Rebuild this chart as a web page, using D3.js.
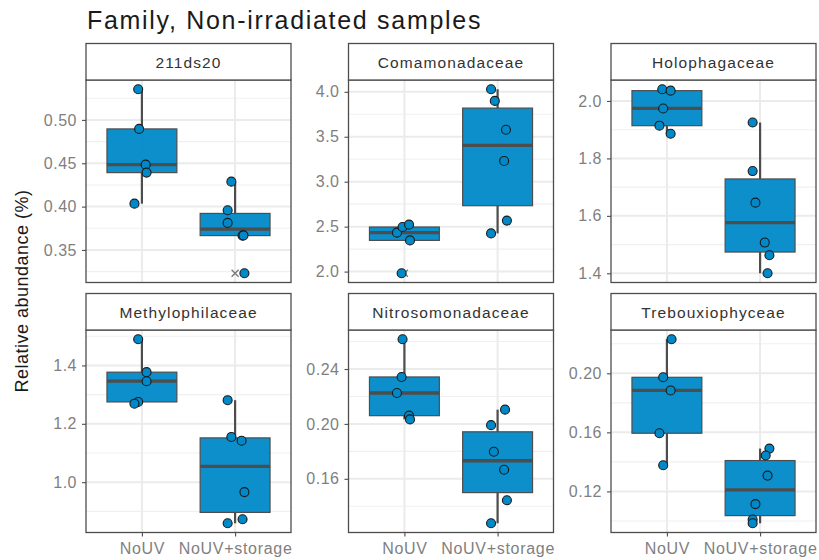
<!DOCTYPE html>
<html>
<head>
<meta charset="utf-8">
<script src="https://cdn.jsdelivr.net/npm/d3@7"></script>
<style>
  body { margin: 0; background: #fff; }
  svg { font-family: "Liberation Sans", Arial, sans-serif; }
</style>
</head>
<body>
<div id="chart"></div>
<script>
// facets and groups
var facets = ["211ds20", "Comamonadaceae", "Holophagaceae", "Methylophilaceae", "Nitrosomonadaceae", "Trebouxiophyceae"];
var groups = ["NoUV", "NoUV+storage"];

// values, one array per facet
var nouvValues = [
  [0.5354, 0.4896, 0.4484, 0.4392, 0.4034],
  [2.433, 2.496, 2.522, 2.347, 1.981],
  [2.041, 2.036, 1.974, 1.914, 1.886],
  [1.490, 1.377, 1.346, 1.275, 1.269],
  [0.2617, 0.2342, 0.2225, 0.2060, 0.2033],
  [0.2231, 0.1973, 0.1884, 0.1594, 0.1377]
];
var storageValues = [
  [0.4288, 0.3958, 0.3812, 0.3665, 0.3668, 0.3231],
  [4.029, 3.899, 3.578, 3.231, 2.567, 2.425],
  [1.925, 1.756, 1.646, 1.507, 1.463, 1.400],
  [1.281, 1.155, 1.142, 0.966, 0.873, 0.859],
  [0.2104, 0.1991, 0.1797, 0.1666, 0.1444, 0.1276],
  [0.1490, 0.1443, 0.1307, 0.1114, 0.1010, 0.0984]
];
// horizontal jitter of each point, in category steps
var nouvJitter = [
  [-0.04, -0.03, 0.04, 0.05, -0.08],
  [-0.08, -0.02, 0.05, 0.06, -0.03],
  [-0.05, 0.04, -0.04, -0.08, 0.04],
  [-0.04, 0.05, 0.05, -0.04, -0.08],
  [-0.02, -0.03, -0.08, 0.05, 0.06],
  [0.05, -0.04, 0.04, -0.08, -0.04]
];
var storageJitter = [
  [-0.04, -0.08, -0.08, 0.08, 0.09, 0.10],
  [-0.07, -0.03, 0.09, 0.07, 0.10, -0.07],
  [-0.08, -0.08, -0.05, 0.05, 0.10, 0.08],
  [-0.08, -0.04, 0.07, 0.10, 0.08, -0.08],
  [0.08, -0.07, -0.04, 0.07, 0.10, -0.07],
  [0.10, 0.06, 0.08, -0.05, -0.08, -0.08]
];
var yTicks = [
  [0.35, 0.40, 0.45, 0.50],
  [2.0, 2.5, 3.0, 3.5, 4.0],
  [1.4, 1.6, 1.8, 2.0],
  [1.0, 1.2, 1.4],
  [0.16, 0.20, 0.24],
  [0.12, 0.16, 0.20]
];
var yTickLabels = [
  ["0.35", "0.40", "0.45", "0.50"],
  ["2.0", "2.5", "3.0", "3.5", "4.0"],
  ["1.4", "1.6", "1.8", "2.0"],
  ["1.0", "1.2", "1.4"],
  ["0.16", "0.20", "0.24"],
  ["0.12", "0.16", "0.20"]
];

var width = 819, height = 560;
var panelLeft = [86, 348.5, 611];
var panelW = 205;
var rowTop = [43.5, 293.5];
var stripH = 36.5;
var plotH = 202.5;
var fill = "#0089c8";
var dark = "#4d4d4d";
var tickGrey = "#7f7f7f";

var svg = d3.select("#chart").append("svg")
  .attr("width", width)
  .attr("height", height);

svg.append("text")
  .attr("x", 87)
  .attr("y", 29)
  .attr("font-size", "25px")
  .attr("letter-spacing", "1.7px")
  .attr("fill", "#1a1a1a")
  .text("Family, Non-irradiated samples");

svg.append("text")
  .attr("transform", "translate(28,291) rotate(-90)")
  .attr("text-anchor", "middle")
  .attr("font-size", "18px")
  .attr("letter-spacing", "0.5px")
  .attr("fill", "#1a1a1a")
  .text("Relative abundance (%)");

function boxStats(vals) {
  var s = vals.slice().sort(d3.ascending);
  var q1 = d3.quantileSorted(s, 0.25), med = d3.quantileSorted(s, 0.5), q3 = d3.quantileSorted(s, 0.75);
  var iqr = q3 - q1;
  var lo = q1 - 1.5 * iqr, hi = q3 + 1.5 * iqr;
  var inside = s.filter(function(v) { return v >= lo && v <= hi; });
  return {
    q1: q1, med: med, q3: q3,
    wlo: d3.min(inside), whi: d3.max(inside),
    out: s.filter(function(v) { return v < lo || v > hi; })
  };
}

facets.forEach(function(name, i) {
  var col = i % 3, row = Math.floor(i / 3);
  var left = panelLeft[col];
  var top = rowTop[row];
  var plotTop = top + stripH;

  var all = nouvValues[i].concat(storageValues[i]);
  var ext = d3.extent(all);
  var pad = (ext[1] - ext[0]) * 0.05;

  var x = d3.scalePoint()
    .domain(groups)
    .range([0, panelW])
    .padding(0.6);
  var y = d3.scaleLinear()
    .domain([ext[0] - pad, ext[1] + pad])
    .range([plotH, 0]);

  var g = svg.append("g")
    .attr("transform", "translate(" + left + "," + plotTop + ")");

  // grid
  var step = yTicks[i][1] - yTicks[i][0];
  var minor = [yTicks[i][0] - step / 2].concat(yTicks[i].map(function(t) { return t + step / 2; }))
    .filter(function(v) { return v >= y.domain()[0] && v <= y.domain()[1]; });
  g.selectAll(".minor").data(minor).enter().append("line")
    .attr("x1", 0).attr("x2", panelW)
    .attr("y1", function(d) { return y(d); }).attr("y2", function(d) { return y(d); })
    .attr("stroke", "#f0f0f0").attr("stroke-width", 1.1);
  g.selectAll(".major").data(yTicks[i]).enter().append("line")
    .attr("x1", 0).attr("x2", panelW)
    .attr("y1", function(d) { return y(d); }).attr("y2", function(d) { return y(d); })
    .attr("stroke", "#ebebeb").attr("stroke-width", 2);
  g.selectAll(".vmajor").data(groups).enter().append("line")
    .attr("x1", function(d) { return x(d); }).attr("x2", function(d) { return x(d); })
    .attr("y1", 0).attr("y2", plotH)
    .attr("stroke", "#ebebeb").attr("stroke-width", 2);

  // boxes
  var sets = [nouvValues[i], storageValues[i]];
  var jit = [nouvJitter[i], storageJitter[i]];
  var bw = x.step() * 0.75;
  sets.forEach(function(vals, k) {
    var st = boxStats(vals);
    var cx = x(groups[k]);
    g.append("line")
      .attr("x1", cx).attr("x2", cx)
      .attr("y1", y(st.whi)).attr("y2", y(st.q3))
      .attr("stroke", dark).attr("stroke-width", 2.2);
    g.append("line")
      .attr("x1", cx).attr("x2", cx)
      .attr("y1", y(st.q1)).attr("y2", y(st.wlo))
      .attr("stroke", dark).attr("stroke-width", 2.2);
    g.append("rect")
      .attr("x", cx - bw / 2)
      .attr("y", y(st.q3))
      .attr("width", bw)
      .attr("height", y(st.q1) - y(st.q3))
      .attr("fill", fill)
      .attr("fill-opacity", 0.95)
      .attr("stroke", dark)
      .attr("stroke-width", 1.2);
    g.append("line")
      .attr("x1", cx - bw / 2).attr("x2", cx + bw / 2)
      .attr("y1", y(st.med)).attr("y2", y(st.med))
      .attr("stroke", dark).attr("stroke-width", 3.3);
    // outliers as small crosses
    st.out.forEach(function(v) {
      var oy = y(v), s = 3.5;
      g.append("path")
        .attr("d", "M" + (cx - s) + "," + (oy - s) + "L" + (cx + s) + "," + (oy + s) +
                   "M" + (cx - s) + "," + (oy + s) + "L" + (cx + s) + "," + (oy - s))
        .attr("stroke", "#777").attr("stroke-width", 1.3);
    });
    // jittered points
    g.selectAll(".pt" + k).data(vals).enter().append("circle")
      .attr("cx", function(d, j) { return cx + jit[k][j] * x.step(); })
      .attr("cy", function(d) { return y(d); })
      .attr("r", 4.5)
      .attr("fill", fill)
      .attr("stroke", "#1a1a1a")
      .attr("stroke-width", 1.1);
  });

  // axes
  var yAxis = d3.axisLeft(y).tickValues(yTicks[i])
    .tickFormat(function(d, j) { return yTickLabels[i][j]; })
    .tickSize(4).tickPadding(5);
  var ya = g.append("g").call(yAxis);
  ya.select(".domain").remove();
  ya.selectAll("line").attr("stroke", dark).attr("stroke-width", 1.1);
  ya.selectAll("text").attr("font-size", "16px").attr("fill", tickGrey)
    .attr("letter-spacing", "0.5px")
    .attr("font-family", "Liberation Sans, Arial, sans-serif");

  if (row === 1) {
    var xAxis = d3.axisBottom(x).tickSize(4).tickPadding(6.5);
    var xa = g.append("g").attr("transform", "translate(0," + plotH + ")").call(xAxis);
    xa.select(".domain").remove();
    xa.selectAll("line").attr("stroke", dark).attr("stroke-width", 1.1);
    xa.selectAll("text").attr("font-size", "16px").attr("fill", tickGrey)
      .attr("letter-spacing", "0.7px")
      .attr("font-family", "Liberation Sans, Arial, sans-serif");
  }

  // panel border
  g.append("rect")
    .attr("x", 0).attr("y", 0)
    .attr("width", panelW).attr("height", plotH)
    .attr("fill", "none").attr("stroke", dark).attr("stroke-width", 1.3);

  // strip
  svg.append("rect")
    .attr("x", left).attr("y", top)
    .attr("width", panelW).attr("height", stripH)
    .attr("fill", "#fff").attr("stroke", dark).attr("stroke-width", 1.3);
  svg.append("text")
    .attr("x", left + panelW / 2)
    .attr("y", top + stripH / 2 + 6)
    .attr("text-anchor", "middle")
    .attr("font-size", "15.5px")
    .attr("letter-spacing", "1.1px")
    .attr("fill", "#333")
    .text(name);
});
</script>
</body>
</html>
